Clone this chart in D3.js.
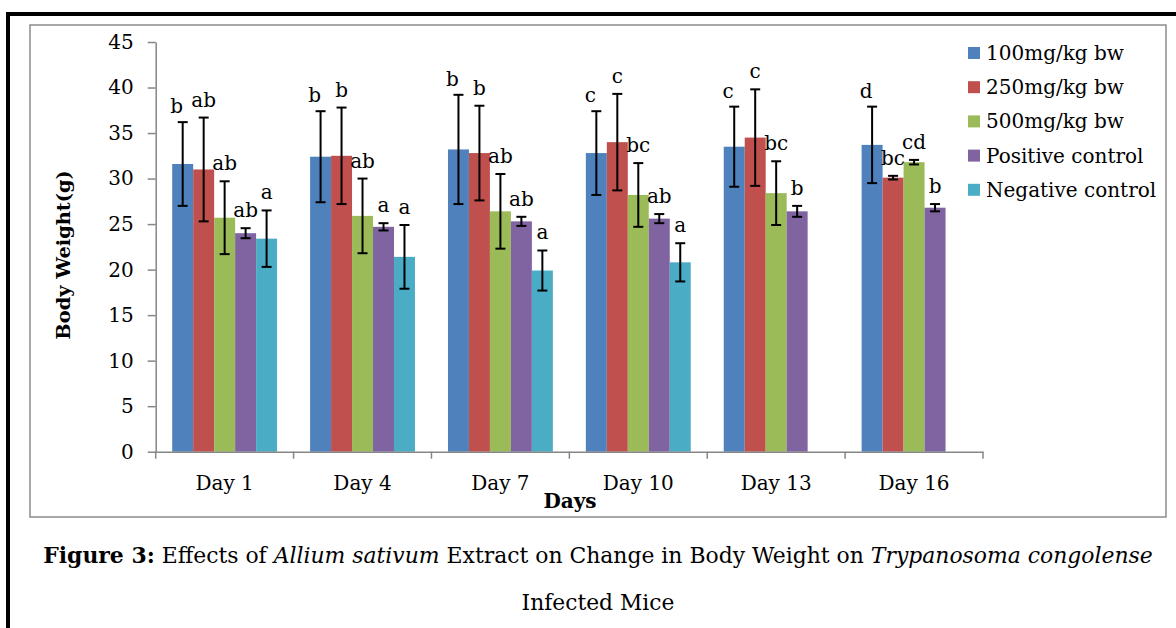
<!DOCTYPE html>
<html>
<head>
<meta charset="utf-8">
<script src="https://cdn.jsdelivr.net/npm/d3@7"></script>
<style>
  body { margin: 0; background: #fff; }
  svg { display: block; font-family: "DejaVu Serif", serif; }
  .axis path, .axis line { stroke: #868686; stroke-width: 1.5px; }
  .axis text { fill: #000; font-size: 20px; font-family: "DejaVu Serif", serif; }
</style>
</head>
<body>
<div id="chart"></div>
<script>
// categories and series
const days = ["Day 1", "Day 4", "Day 7", "Day 10", "Day 13", "Day 16"];
const seriesNames = ["100mg/kg bw", "250mg/kg bw", "500mg/kg bw", "Positive control", "Negative control"];
const seriesColors = ["#4F81BD", "#C0504D", "#9BBB59", "#8064A2", "#4BACC6"];

// mean body weight (g) per series
const dose100 = [31.6, 32.4, 33.2, 32.8, 33.5, 33.7];
const dose250 = [31.0, 32.5, 32.8, 34.0, 34.5, 30.1];
const dose500 = [25.7, 25.9, 26.4, 28.2, 28.4, 31.8];
const positiveCtrl = [24.0, 24.7, 25.3, 25.6, 26.4, 26.8];
const negativeCtrl = [23.4, 21.4, 19.9, 20.8, null, null];

// error bar half-lengths
const err100 = [4.6, 5.0, 6.0, 4.6, 4.4, 4.2];
const err250 = [5.7, 5.3, 5.2, 5.3, 5.3, 0.2];
const err500 = [4.0, 4.1, 4.1, 3.5, 3.5, 0.25];
const errPositive = [0.55, 0.4, 0.5, 0.5, 0.6, 0.4];
const errNegative = [3.1, 3.5, 2.2, 2.1, null, null];

// significance letters
const let100 = ["b", "b", "b", "c", "c", "d"];
const let250 = ["ab", "b", "b", "c", "c", "bc"];
const let500 = ["ab", "ab", "ab", "bc", "bc", "cd"];
const letPositive = ["ab", "a", "ab", "ab", "b", "b"];
const letNegative = ["a", "a", "a", "a", null, null];

const yTicks = [0, 5, 10, 15, 20, 25, 30, 35, 40, 45];

const values = [dose100, dose250, dose500, positiveCtrl, negativeCtrl];
const errors = [err100, err250, err500, errPositive, errNegative];
const letters = [let100, let250, let500, letPositive, letNegative];

// flatten into one row per bar
const rows = [];
days.forEach((day, i) => {
  seriesNames.forEach((s, j) => {
    if (values[j][i] == null) return;
    rows.push({ day: day, series: s, si: j, value: values[j][i], err: errors[j][i], letter: letters[j][i] });
  });
});

const W = 1176, H = 628;
const svg = d3.select("#chart").append("svg")
  .attr("width", W).attr("height", H);

svg.append("rect").attr("width", W).attr("height", H).attr("fill", "#fff");

// outer black page frame (left + top only visible)
svg.append("path")
  .attr("d", "M8,640 L8,14 L1190,14")
  .attr("fill", "none").attr("stroke", "#000").attr("stroke-width", 4);

// chart area frame
svg.append("rect")
  .attr("x", 30).attr("y", 25).attr("width", 1136).attr("height", 492)
  .attr("fill", "none").attr("stroke", "#8c8c8c").attr("stroke-width", 1.5);

const x0 = d3.scaleBand().domain(days).range([155.7, 983]);
const x1 = d3.scaleBand().domain(seriesNames).range([16.5, x0.bandwidth() - 16.5]);
const y = d3.scaleLinear().domain([0, 45]).range([451.7, 42]);
const color = d3.scaleOrdinal().domain(seriesNames).range(seriesColors);

// y axis
svg.append("g")
  .attr("class", "axis")
  .attr("transform", "translate(155.7,0)")
  .call(d3.axisLeft(y).tickValues(yTicks).tickSize(8).tickSizeOuter(0).tickPadding(14));

// bars
const g = svg.append("g");
g.selectAll("rect.bar")
  .data(rows)
  .enter().append("rect")
  .attr("class", "bar")
  .attr("x", d => x0(d.day) + x1(d.series))
  .attr("y", d => y(d.value))
  .attr("width", x1.bandwidth())
  .attr("height", d => y(0) - y(d.value))
  .attr("fill", d => color(d.series));

// error bars
const eb = g.selectAll("g.err")
  .data(rows)
  .enter().append("g")
  .attr("class", "err")
  .attr("transform", d => `translate(${x0(d.day) + x1(d.series) + x1.bandwidth() / 2},0)`)
  .attr("stroke", "#000").attr("stroke-width", 2);
eb.append("line")
  .attr("y1", d => y(d.value + d.err)).attr("y2", d => y(d.value - d.err));
eb.append("line")
  .attr("x1", -5).attr("x2", 5)
  .attr("y1", d => y(d.value + d.err)).attr("y2", d => y(d.value + d.err));
eb.append("line")
  .attr("x1", -5).attr("x2", 5)
  .attr("y1", d => y(d.value - d.err)).attr("y2", d => y(d.value - d.err));

// significance letters (first series nudged left, as in the original)
g.selectAll("text.sig")
  .data(rows)
  .enter().append("text")
  .attr("class", "sig")
  .attr("x", d => x0(d.day) + x1(d.series) + x1.bandwidth() / 2 - (d.si === 0 ? 6 : 0))
  .attr("y", d => y(d.value + d.err) - (d.si === 0 ? 9 : 11))
  .attr("text-anchor", "middle")
  .attr("font-size", 20)
  .text(d => d.letter);

// x axis
const xAxis = svg.append("g")
  .attr("class", "axis")
  .attr("transform", `translate(0,${y(0)})`)
  .call(d3.axisBottom(x0).tickSize(0).tickPadding(24));
xAxis.selectAll(".tick line").remove();
const bounds = days.map(d => x0(d)).concat([x0.range()[1]]);
xAxis.selectAll("line.bound")
  .data(bounds)
  .enter().append("line")
  .attr("class", "bound")
  .attr("x1", d => d).attr("x2", d => d)
  .attr("y1", 0).attr("y2", 7);

// axis titles
svg.append("text")
  .attr("transform", "translate(70,255) rotate(-90)")
  .attr("text-anchor", "middle")
  .attr("font-weight", "bold").attr("font-size", 19.4)
  .text("Body Weight(g)");

svg.append("text")
  .attr("x", 570).attr("y", 508)
  .attr("text-anchor", "middle")
  .attr("font-weight", "bold").attr("font-size", 20)
  .text("Days");

// legend
const legend = svg.append("g").attr("transform", "translate(968,53)");
const le = legend.selectAll("g")
  .data(seriesNames)
  .enter().append("g")
  .attr("transform", (d, i) => `translate(0,${i * 34.2})`);
le.append("rect")
  .attr("x", 0).attr("y", -6).attr("width", 12).attr("height", 12)
  .attr("fill", d => color(d));
le.append("text")
  .attr("x", 18).attr("y", 7)
  .attr("font-size", 20)
  .text(d => d);

// caption
const cap = svg.append("text")
  .attr("x", 598).attr("y", 563)
  .attr("text-anchor", "middle")
  .attr("font-size", 21.9);
cap.append("tspan").attr("font-weight", "bold").text("Figure 3:");
cap.append("tspan").text(" Effects of ");
cap.append("tspan").attr("font-style", "italic").text("Allium sativum");
cap.append("tspan").text(" Extract on Change in Body Weight on ");
cap.append("tspan").attr("font-style", "italic").text("Trypanosoma congolense");

svg.append("text")
  .attr("x", 598).attr("y", 610)
  .attr("text-anchor", "middle")
  .attr("font-size", 21.8)
  .text("Infected Mice");
</script>
</body>
</html>
